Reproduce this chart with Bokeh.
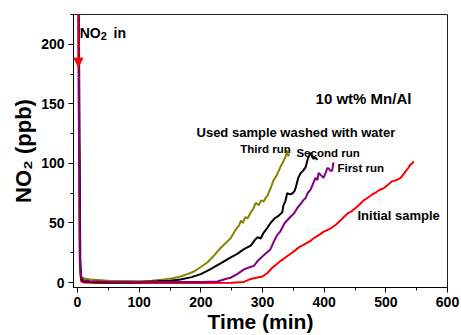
from bokeh.plotting import figure
from bokeh.models import Range1d, FixedTicker, Label, Arrow, NormalHead
from bokeh.embed import file_html
from bokeh.resources import INLINE

# ---------------- data ----------------
third_x = [0, 1.5, 2.5, 4, 6, 10, 20, 50, 100, 120, 140, 155, 167, 178, 188, 200, 211, 222, 232,
           240, 248, 256, 262, 265, 268, 272, 276, 281, 285, 289, 294, 298, 302, 305, 308, 313,
           318, 323, 329, 333, 337, 340, 342, 343]
third_y = [300, 290, 110, 10, 5, 3.5, 2.5, 1.5, 1, 1.5, 2.5, 3.5, 5, 7, 9, 13, 17, 23, 29,
           33, 37, 44, 48, 52, 50, 55, 54, 59, 62, 67, 65, 69, 68, 71, 73, 79,
           86, 90, 97, 101, 105, 111, 106, 108]

second_x = [0, 1.5, 3, 4.5, 6, 9, 20, 60, 100, 130, 150, 167, 185, 200, 215, 232, 245, 259, 270,
            281, 288, 292, 297, 302, 308, 313, 320, 326, 332, 334, 337, 340, 345, 349, 352, 354,
            358, 362, 366, 370, 373, 375, 378, 381, 383, 386, 389]
second_y = [300, 290, 150, 20, 3, 1, 0.5, 0, 0.3, 1, 1.5, 2.5, 4.5, 7, 11, 16, 20, 24, 28,
            31, 36, 38, 37, 42, 46, 50, 54, 56, 59, 65, 68, 75, 74, 75, 77, 80,
            88, 92, 94, 97, 103, 106, 109, 105, 104, 105, 103]

first_x = [0, 1.5, 2.5, 4, 6, 10, 20, 60, 100, 150, 200, 227, 240, 248, 259, 270, 280, 286, 292,
           302, 313, 318, 324, 329, 336, 345, 351, 357, 362, 366, 370, 373, 378, 382, 386, 389,
           391, 395, 399, 403, 405, 407, 410, 413, 415]
first_y = [300, 290, 130, 15, 4, 2, 1, 0.5, 0.5, 0.5, 0.5, 0.8, 3, 4, 7, 11, 13, 14, 18,
           23, 28, 34, 40, 43, 50, 55, 58, 63, 66, 69, 71, 75, 78, 83, 88, 86,
           92, 90, 88, 93, 96, 96, 94, 94, 101]

initial_x = [0, 1, 2, 4, 6, 10, 30, 100, 200, 250, 270, 281, 290, 300, 308, 315, 322, 329, 337,
             345, 353, 360, 368, 378, 385, 392, 400, 405, 412, 420, 428, 432, 438, 445, 452,
             458, 464, 470, 478, 485, 490, 496, 503, 510, 517, 524, 530, 536, 540, 543, 545]
initial_y = [300, 290, 150, 10, 1, 0, -0.5, -0.5, -0.5, -0.3, 0.5, 3, 4, 5, 8, 12, 15, 18, 21,
             24, 27, 30, 32, 35, 38, 40, 43, 44, 46, 49, 53, 55, 58, 60, 63,
             66, 69, 71, 74, 76, 78, 79, 82, 85, 86, 88, 92, 96, 99, 100, 102]

x_ticks = [0, 100, 200, 300, 400, 500, 600]
x_minor = [50, 150, 250, 350, 450, 550]
y_ticks = [0, 50, 100, 150, 200]
y_minor = [25, 75, 125, 175, 225]

FONT = "Liberation Sans"

p = figure(width=461, height=335, x_range=Range1d(-6.5, 600), y_range=Range1d(-4.2, 225.2),
           output_backend="svg", toolbar_location=None,
           min_border_left=73, min_border_right=14, min_border_top=14, min_border_bottom=48)

p.xgrid.visible = False
p.ygrid.visible = False
p.outline_line_color = "#222222"
p.outline_line_width = 1
p.background_fill_color = "white"
p.border_fill_color = "white"

p.line(initial_x, initial_y, line_color="#ff0000", line_width=2)
p.line(third_x, third_y, line_color="#848400", line_width=2)
p.line(second_x, second_y, line_color="#000000", line_width=2)
p.line(first_x, first_y, line_color="#800080", line_width=2)

for ax, tk, mn in ((p.xaxis, x_ticks, x_minor), (p.yaxis, y_ticks, y_minor)):
    ax.ticker = FixedTicker(ticks=tk, minor_ticks=mn)
    ax.major_tick_out = 5
    ax.major_tick_in = 0
    ax.minor_tick_out = 3
    ax.minor_tick_in = 0
    ax.axis_line_color = "black"
    ax.major_tick_line_color = "black"
    ax.minor_tick_line_color = "black"
    ax.major_label_text_font = FONT
    ax.major_label_text_font_style = "bold"
    ax.major_label_text_font_size = "14px"
    ax.major_label_text_color = "black"
    ax.axis_label_text_font = FONT
    ax.axis_label_text_font_style = "bold"
    ax.axis_label_text_font_size = "21px"
    ax.axis_label_text_color = "black"

p.xaxis.axis_label = "Time (min)"
p.yaxis.axis_label = "NO₂ (ppb)"
p.yaxis.axis_label_text_font_size = "22px"
p.xaxis.major_label_standoff = 4
p.xaxis.axis_label_standoff = 0
p.yaxis.major_label_standoff = 4
p.yaxis.axis_label_standoff = 2

arrow = Arrow(end=NormalHead(size=9, fill_color="#ff0000", line_color="#ff0000"),
              x_start=1.5, y_start=225.2, x_end=1.5, y_end=181,
              line_color="#ff0000", line_width=2, line_dash="4 2")
p.add_layout(arrow)

def lab(x, y, t, size):
    p.add_layout(Label(x=x, y=y, text=t, text_font=FONT, text_font_style="bold",
                       text_font_size=size, text_color="black", text_baseline="alphabetic"))

# "NO2 in" annotation (subscript drawn as a smaller, lowered "2")
lab(3.5, 210, "NO", "14px")
lab(37.5, 206.8, "2", "11px")
lab(58.5, 210, "in", "14px")

lab(386, 154.5, "10 wt% Mn/Al", "15px")
lab(193, 126, "Used sample washed with water", "13px")
lab(264, 112.5, "Third run", "11.5px")
lab(355, 109, "Second run", "11.5px")
lab(421.5, 96.5, "First run", "11.5px")
lab(454, 56.3, "Initial sample", "13px")

open("out.html", "w").write(file_html(p, INLINE))
